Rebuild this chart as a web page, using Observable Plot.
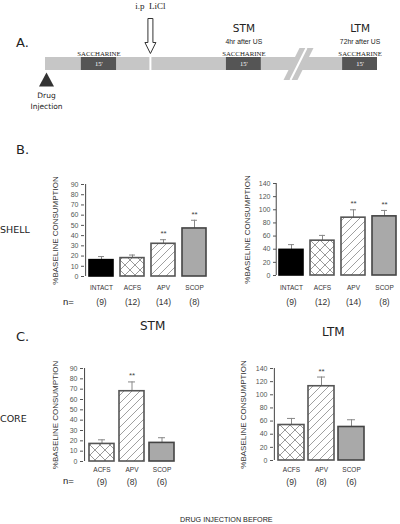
<!DOCTYPE html>
<html>
<head>
<meta charset="utf-8">
<script src="https://cdn.jsdelivr.net/npm/d3@7"></script>
<script src="https://cdn.jsdelivr.net/npm/@observablehq/plot@0.6"></script>
<style>
  body { margin: 0; background: white; }
  #root { position: relative; width: 400px; height: 524px; background: white; overflow: hidden; font-family: "Liberation Sans", Arial, sans-serif; color: #222; }
  .lbl { position: absolute; white-space: nowrap; line-height: 1; }
</style>
</head>
<body>
<svg width="0" height="0" style="position:absolute">
  <defs>
    <pattern id="cross" width="10" height="10" patternUnits="userSpaceOnUse">
      <rect width="10" height="10" fill="white"/>
      <path d="M0,0L10,10M10,0L0,10" stroke="#9a9a9a" stroke-width="1"/>
    </pattern>
    <pattern id="diag" width="8" height="8" patternUnits="userSpaceOnUse">
      <rect width="8" height="8" fill="white"/>
      <path d="M0,8L8,0M-2,2L2,-2M6,10L10,6" stroke="#a0a0a0" stroke-width="1"/>
    </pattern>
  </defs>
</svg>
<div id="root">
  <div class="lbl" style="left:16px;top:36px;font-family:'DejaVu Sans';font-size:13px;">A.</div>
  <div class="lbl" style="left:16px;top:143px;font-family:'DejaVu Sans';font-size:13px;">B.</div>
  <div class="lbl" style="left:16px;top:330px;font-family:'DejaVu Sans';font-size:13px;">C.</div>
  <div class="lbl" style="left:0px;top:225px;font-family:'DejaVu Sans';font-size:9.5px;">SHELL</div>
  <div class="lbl" style="left:0px;top:414px;font-family:'DejaVu Sans';font-size:9.5px;">CORE</div>
  <div class="lbl" style="left:140px;top:320px;font-family:'DejaVu Sans';font-size:12px;">STM</div>
  <div class="lbl" style="left:322px;top:326px;font-family:'DejaVu Sans';font-size:12px;">LTM</div>
  <div class="lbl" style="left:63px;top:297px;font-size:9.5px;">n=</div>
  <div class="lbl" style="left:63px;top:476px;font-size:9.5px;">n=</div>
  <div class="lbl" style="left:180px;top:516px;font-size:7.2px;">DRUG INJECTION BEFORE</div>
</div>
<script>
// ---------- DATA ----------
// Panel A: schematic timeline (arbitrary time units 0..100)
const sessionStart = [10.8, 54.5, 89.5];
const sessionEnd = [21.4, 65, 100];
const sessionTitle = ["", "STM", "LTM"];
const sessionDelay = ["", "4hr after US", "72hr after US"];
const sessionLabel = ["SACCHARINE", "SACCHARINE", "SACCHARINE"];
const sessionDuration = ["15'", "15'", "15'"];
const liclTime = [31.6];
const liclLabel = ["i.p  LiCl"];
const breakTime = [76.2];
const injectionTime = [0.3];
const injectionLabel = ["Drug\nInjection"];

// Panel B: shell
const shellGroups = ["INTACT", "ACFS", "APV", "SCOP"];
const shellN = ["(9)", "(12)", "(14)", "(8)"];
const shellSTM = [16, 18, 32, 47];
const shellSTMerr = [3.5, 3, 4, 8];
const shellSTMsig = ["", "", "**", "**"];
const shellLTM = [39, 53, 88, 90];
const shellLTMerr = [8, 8, 12, 9];
const shellLTMsig = ["", "", "**", "**"];

// Panel C: core
const coreGroups = ["ACFS", "APV", "SCOP"];
const coreN = ["(9)", "(8)", "(6)"];
const coreSTM = [17, 68, 18];
const coreSTMerr = [4, 9, 5];
const coreSTMsig = ["", "**", ""];
const coreLTM = [54, 113, 51];
const coreLTMerr = [10, 14, 11];
const coreLTMsig = ["", "**", ""];

const yTitle = "%BASELINE CONSUMPTION";

// ---------- STYLE ----------
const fills = {INTACT: "#000", ACFS: "url(#cross)", APV: "url(#diag)", SCOP: "#a9a9a9"};
const strokes = {INTACT: "#000", ACFS: "#555", APV: "#555", SCOP: "#444"};

const root = document.getElementById("root");
function place(svg, left, top) {
  svg.style.position = "absolute";
  svg.style.left = left + "px";
  svg.style.top = top + "px";
  svg.style.margin = "0";
  svg.style.maxWidth = "none";
  root.appendChild(svg);
}

// ---------- PANEL A ----------
const sessions = sessionStart.map((s, i) => ({s, e: sessionEnd[i], mid: (s + sessionEnd[i]) / 2,
  title: sessionTitle[i], delay: sessionDelay[i], label: sessionLabel[i], dur: sessionDuration[i]}));

const arrowSymbol = {draw(ctx) {
  ctx.moveTo(-2.5, -17.5); ctx.lineTo(2.5, -17.5); ctx.lineTo(2.5, 6.5); ctx.lineTo(5.5, 6.5);
  ctx.lineTo(0, 17.5); ctx.lineTo(-5.5, 6.5); ctx.lineTo(-2.5, 6.5); ctx.closePath();
}};
const triSymbol = {draw(ctx) {
  ctx.moveTo(0, -7); ctx.lineTo(7.5, 7); ctx.lineTo(-7.5, 7); ctx.closePath();
}};
const breakSymbol = {draw(ctx) {
  ctx.moveTo(-15, 16); ctx.lineTo(-1, 16); ctx.lineTo(15, -16); ctx.lineTo(1, -16); ctx.closePath();
}};
const breakLine = {draw(ctx) {
  ctx.moveTo(-8, 16); ctx.lineTo(8, -16);
}};

const timeline = Plot.plot({
  width: 400, height: 125,
  marginLeft: 45, marginRight: 23, marginTop: 57, marginBottom: 55,
  x: {domain: [0, 100], axis: null},
  style: {background: "transparent", fontFamily: "Liberation Sans", overflow: "visible"},
  marks: [
    Plot.barX([0], {x1: 0, x2: 100, fill: "#c6c6c6"}),
    Plot.ruleX(liclTime, {x: d => d, stroke: "white", strokeWidth: 2}),
    Plot.barX(sessions, {x1: "s", x2: "e", fill: "#555"}),
    Plot.dot(breakTime, {x: d => d, symbol: breakSymbol, fill: "#c6c6c6", stroke: "none"}),
    Plot.dot(breakTime, {x: d => d, symbol: breakLine, fill: "none", stroke: "white", strokeWidth: 2}),
    Plot.text(sessions, {x: "mid", text: "dur", fill: "white", fontSize: 6.5, fontFamily: "Liberation Serif", frameAnchor: "middle", lineAnchor: "middle"}),
    Plot.text(sessions, {x: "mid", text: "label", fill: "#222", fontSize: 6.8, fontFamily: "Liberation Serif", frameAnchor: "top", lineAnchor: "middle", dy: -4}),
    Plot.text(sessions, {x: "mid", text: "title", fill: "#222", fontSize: 10.5, fontFamily: "DejaVu Sans", frameAnchor: "top", lineAnchor: "middle", dy: -29}),
    Plot.text(sessions, {x: "mid", text: "delay", fill: "#222", fontSize: 6.8, fontFamily: "Liberation Sans", letterSpacing: -0.3, frameAnchor: "top", lineAnchor: "middle", dy: -16}),
    Plot.dot(liclTime, {x: d => d, symbol: arrowSymbol, fill: "white", stroke: "#333", strokeWidth: 1, frameAnchor: "top", dy: -21.5}),
    Plot.text(liclLabel, {x: () => liclTime[0], text: d => d, fontFamily: "Liberation Serif", fontSize: 9, fill: "#222", frameAnchor: "top", lineAnchor: "middle", dy: -51}),
    Plot.dot(injectionTime, {x: d => d, symbol: triSymbol, fill: "#333", stroke: "none", frameAnchor: "bottom", dy: 9}),
    Plot.text(injectionLabel, {x: () => injectionTime[0], text: d => d, fontFamily: "DejaVu Sans", fontSize: 7.5, lineHeight: 1.45, fill: "#222", frameAnchor: "bottom", lineAnchor: "top", dy: 20})
  ]
});
place(timeline, 0, 0);

// ---------- BAR CHARTS ----------
function barChart(o) {
  const rows = o.groups.map((g, i) => ({g, v: o.values[i], e: o.values[i] + o.errs[i], s: o.sig[i], n: o.ns[i]}));
  const n = o.groups.length;
  const step = (o.width - o.mL - o.mR) / (n - o.pi + 2 * o.po);
  const axisOffset = -(step * o.po + step * (1 - o.pi) / 2);
  return Plot.plot({
    width: o.width, height: o.height,
    marginLeft: o.mL, marginRight: o.mR, marginTop: o.mT, marginBottom: o.mB,
    x: {type: "band", domain: o.groups, paddingInner: o.pi, paddingOuter: o.po, axis: null},
    y: {domain: [0, o.yMax]},
    color: {type: "identity"},
    style: {background: "transparent", fontFamily: "Liberation Sans", overflow: "visible"},
    marks: [
      Plot.axisY({ticks: d3.range(0, o.yMax + 1, o.yStep), tickSize: 3, tickPadding: 3, fontSize: 7, color: "#555", label: null}),
      Plot.ruleX([o.groups[0]], {x: d => d, y1: 0, y2: o.yMax, dx: axisOffset, stroke: "#444", strokeWidth: 1}),
      Plot.ruleX(rows, {x: "g", y1: "v", y2: "e", stroke: "#888", strokeWidth: 1}),
      Plot.tickY(rows, {x: "g", y: "e", stroke: "#888", strokeWidth: 1, insetLeft: 9, insetRight: 9}),
      Plot.barY(rows, {x: "g", y: "v", fill: d => fills[d.g], stroke: d => strokes[d.g], strokeWidth: 1.6}),
      Plot.text(rows, {x: "g", y: "e", text: "s", dy: -6, fontSize: 8, fill: "#444", lineAnchor: "middle"}),
      Plot.text(rows, {x: "g", text: "g", frameAnchor: "bottom", lineAnchor: "middle", dy: o.labDy, fontSize: 6.5, fill: "#333"}),
      Plot.text(rows, {x: "g", text: "n", frameAnchor: "bottom", lineAnchor: "middle", dy: o.nDy, fontSize: 8.5, fill: "#333"}),
      Plot.text([yTitle], {text: d => d, frameAnchor: "left", textAnchor: "middle", lineAnchor: "middle", rotate: -90, dx: o.yLabDx, fontSize: 8, fill: "#333"})
    ]
  });
}

place(barChart({groups: shellGroups, values: shellSTM, errs: shellSTMerr, sig: shellSTMsig, ns: shellN,
  yMax: 90, yStep: 10, width: 212, height: 140, mL: 84, mR: 1, mT: 14, mB: 34,
  pi: 0.24, po: 0.12, labDy: 11, nDy: 26, yLabDx: -29}), 0, 170);

place(barChart({groups: shellGroups, values: shellLTM, errs: shellLTMerr, sig: shellLTMsig, ns: shellN,
  yMax: 140, yStep: 20, width: 200, height: 140, mL: 76, mR: 0, mT: 13, mB: 35,
  pi: 0.22, po: 0.1, labDy: 12, nDy: 27, yLabDx: -29}), 200, 170);

place(barChart({groups: coreGroups, values: coreSTM, errs: coreSTMerr, sig: coreSTMsig, ns: coreN,
  yMax: 90, yStep: 10, width: 180, height: 140, mL: 83, mR: 1, mT: 13, mB: 34,
  pi: 0.18, po: 0.16, labDy: 8, nDy: 21, yLabDx: -28}), 0, 355);

place(barChart({groups: coreGroups, values: coreLTM, errs: coreLTMerr, sig: coreLTMsig, ns: coreN,
  yMax: 140, yStep: 20, width: 170, height: 140, mL: 73, mR: 1, mT: 13, mB: 35,
  pi: 0.15, po: 0.13, labDy: 9, nDy: 22, yLabDx: -30}), 200, 355);
</script>
</body>
</html>
